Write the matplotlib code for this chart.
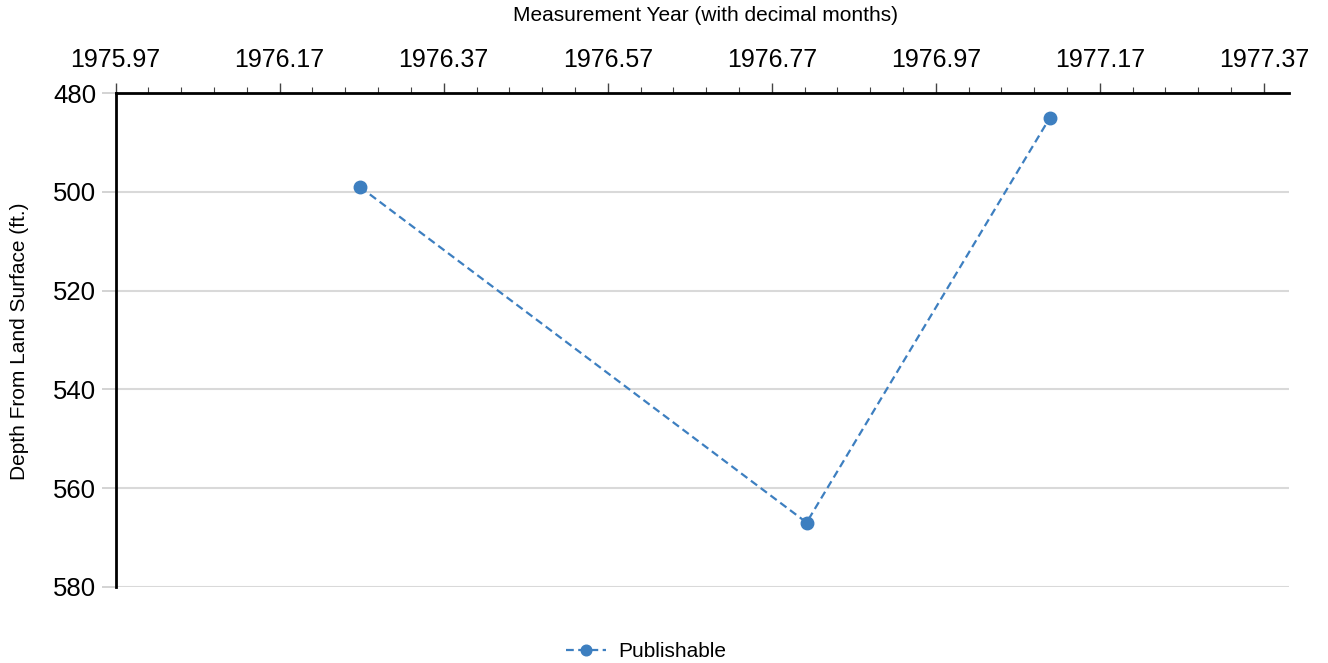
import matplotlib
matplotlib.use("Agg")
import matplotlib.pyplot as plt
import numpy as np
from matplotlib.ticker import FixedLocator

plt.rcParams['font.family'] = ['Liberation Sans', 'DejaVu Sans']

years = [1976.268, 1976.8125, 1977.109]
depths = [499.0, 567.0, 485.0]
series_label = "Publishable"
x_ticks = [1975.97, 1976.17, 1976.37, 1976.57, 1976.77, 1976.97, 1977.17, 1977.37]
y_ticks = [480, 500, 520, 540, 560, 580]

fig = plt.figure(figsize=(13.28, 6.63), dpi=100)
ax = fig.add_axes([0.0871, 0.1151, 0.9708 - 0.0871, 0.8593 - 0.1151])

color = '#3d7fc0'
ax.plot(years, depths, linestyle=(0, (3.5, 2)), linewidth=1.6, color=color,
        marker='o', markersize=9, label=series_label, zorder=3)

ax.set_xlim(1975.97, 1977.401)
ax.set_ylim(580, 480)

ax.xaxis.tick_top()
ax.xaxis.set_major_locator(FixedLocator(x_ticks))
ax.set_xticklabels([f"{t:.2f}" for t in x_ticks], fontsize=18)
minor = np.arange(0, 36) * 0.04 + 1975.97
ax.xaxis.set_minor_locator(FixedLocator([m for m in minor if m <= 1977.401]))
ax.tick_params(axis='x', which='major', length=7, width=1, color='#444444', pad=8)
ax.tick_params(axis='x', which='minor', length=4, width=0.8, color='#444444')

ax.yaxis.set_major_locator(FixedLocator(y_ticks))
ax.set_yticklabels([str(t) for t in y_ticks], fontsize=18.5)
ax.tick_params(axis='y', which='major', length=10, width=1.2, color='#cccccc', pad=4)

ax.grid(axis='y', color='#d9d9d9', linewidth=1.5)
ax.set_axisbelow(True)

for s in ['right', 'bottom']:
    ax.spines[s].set_visible(False)
ax.spines['left'].set_linewidth(2)
ax.spines['top'].set_linewidth(2)
ax.spines['left'].set_color('black')
ax.spines['top'].set_color('black')

fig.text(0.5316, 0.977, "Measurement Year (with decimal months)", fontsize=15,
         ha='center', va='center')
fig.text(0.015, 0.4857, "Depth From Land Surface (ft.)", rotation=90, fontsize=15,
         va='center', ha='center')

leg = fig.legend(loc='center', bbox_to_anchor=(0.4868, 0.0166), frameon=False,
                 fontsize=15, handlelength=1.9, handletextpad=0.6, markerscale=0.85)

fig.savefig("out.png", dpi=100)
